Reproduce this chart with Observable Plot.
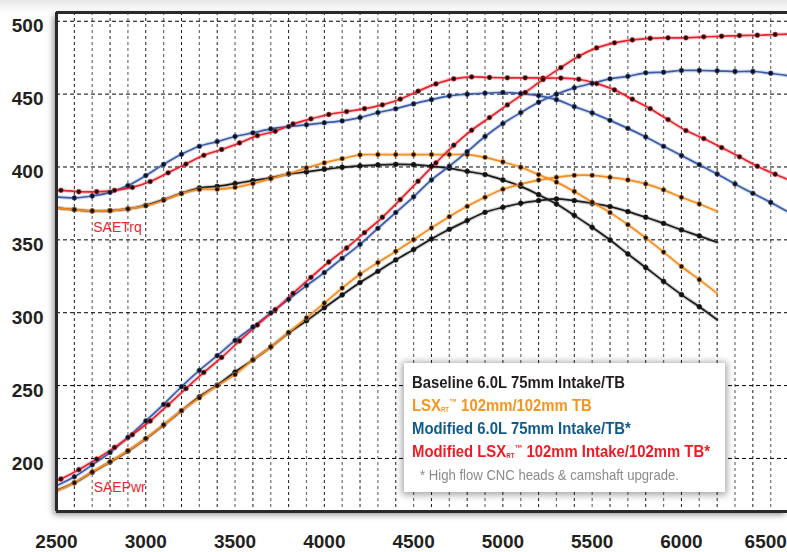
<!DOCTYPE html>
<html><head><meta charset="utf-8">
<script src="https://cdn.jsdelivr.net/npm/d3@7"></script>
<script src="https://cdn.jsdelivr.net/npm/@observablehq/plot@0.6"></script>
<style>
html,body{margin:0;padding:0;}
body{width:787px;height:552px;overflow:hidden;position:relative;background:linear-gradient(#e6e6e6 0px,#f4f4f4 7px,#fff 13px);font-family:"Liberation Sans",Arial,sans-serif;}
#chart{position:absolute;left:0;top:0;}
#legend{position:absolute;left:404px;top:363px;width:321px;height:129px;background:#fff;box-shadow:0 1px 7px 2px rgba(0,0,0,0.35);box-sizing:border-box;padding:8px 0 0 8px;}
#legend .l{font-family:"Liberation Sans",Arial,sans-serif;font-weight:bold;font-size:17px;line-height:23px;height:23px;white-space:nowrap;}
#legend .note{font-family:"Liberation Sans",Arial,sans-serif;font-size:15px;line-height:23px;height:23px;color:#8a8a8a;padding-left:8px;white-space:nowrap;}
#legend span{display:inline-block;transform-origin:0 50%;transform:scaleX(0.875);}
#legend sub{font-size:7px;vertical-align:-1px;line-height:0;}
#legend sup{font-size:9px;vertical-align:6px;line-height:0;}
</style></head>
<body>
<div id="chart"></div>
<div id="legend"></div>
<script>
// ---- data ----
const xTicks = [2500,3000,3500,4000,4500,5000,5500,6000,6500];
const yTicks = [200,250,300,350,400,450,500];

const rpmBase = d3.range(2500, 6201, 100);           // Baseline & LSX
const rpmMod6 = d3.range(2500, 6601, 100);           // Modified 6.0L
const rpmModLsx = [2500, ...d3.range(2525, 6526, 100), 6625]; // Modified LSX

const baseTq = [372,370.7,369.8,370,371.2,373.7,377.6,381.9,385.6,386.7,388.6,390.6,392.5,395.2,396.6,398.4,399.8,400.7,401.4,401.8,401.6,400.5,399.1,397,394.8,391.1,386.7,381,374.6,366.8,358.6,349.9,340.3,331,321.5,312.4,304.1,295.2];
const baseHp = [178,183.3,190.5,197.5,205,213.5,222.9,232.7,242.3,250.3,259.3,267.6,276.5,286.1,294.5,303.4,312.2,320.7,328.4,336.2,343.3,350.6,357.2,363.2,368.9,372.3,375.1,376.9,378.1,376.9,375.1,372.8,369.4,365.5,361.3,356.8,352.7,348.3];

const lsxTq = [372,370.7,369.8,370,371.2,373.3,377.1,381.7,384.5,384.7,386,388.6,392,395.4,399.4,402.8,405.7,408.3,408.5,408.5,408.5,408.5,408.5,408.5,406.6,403.5,399.8,394.8,389.6,383.2,375.8,368.7,360.4,351.4,341.6,331.7,322.7,313.3];
const lsxHp = [177.5,183.3,190.7,197.7,205.3,213.7,223.1,232.8,241.5,249.9,257.5,267.6,276.5,286.5,296.5,306.6,316.9,326.4,334.4,342.1,350.1,358.2,365.9,373,379.2,384.7,388.2,391,392.9,394.3,394.3,392.9,391.1,388.4,384.3,379.2,374.6,369.6];

const mod6Tq = [379.5,378.8,380.1,382.6,387.2,394.1,401.8,408.7,414.2,417.4,420.9,423.4,426.1,427.7,428.9,430.3,431.6,433.9,437.3,439.9,443.3,446.2,448.8,449.9,450.6,451.1,450.4,449,446.2,441.4,437.1,432,426.5,420.6,414.2,407.8,401.6,395.2,388.4,381.9,375.7,369];
const mod6Hp = [181.3,187.4,195.6,204.1,214.4,225.7,237.1,249.2,260.4,270.5,281,290.2,299.8,309.2,318.6,327.5,337.3,346.9,357.9,368.7,379.5,391.1,400.5,410.5,420.9,429.8,437.3,444.4,449.9,454.3,457.4,460.5,462.2,464.6,465,466.2,466.2,466,465.5,465.5,464.3,462.5];

const modLsxTq = [383.6,384,383,383,384,386,390,396,402,408,412,416.5,421.5,424.5,429.5,433,436,438,440,442.6,446.5,452,457,460.5,461.8,461.4,461.2,461.2,461,461,460.2,457.2,452.9,446.5,440,432.5,425,419.5,413.3,407,400.5,395,390];
const modLsxHp = [184.5,185.9,192.3,199.6,207.6,216.3,225.7,236.7,247.9,259,269.3,280.6,291.6,302.1,313.3,324.3,334.8,344.4,354.9,365.5,377.6,390.2,402.8,414.9,425.2,433.9,442.6,451.1,460,468.2,476,481.7,485.2,487.2,488.3,488.6,488.6,489.3,489.7,490.2,490.4,490.9,491.2];

const seriesNames = ["Baseline 6.0L 75mm Intake/TB","LSXRT™ 102mm/102mm TB","Modified 6.0L 75mm Intake/TB*","Modified LSXRT™ 102mm Intake/102mm TB*"];
const footnote = "* High flow CNC heads & camshaft upgrade.";
const curveLabels = [{label:"SAETrq", rpm:2706, value:358.4},{label:"SAEPwr", rpm:2708, value:180.1}];

// ---- styles ----
const lineColors = ["#1b1b1b","#f68b1f","#3b5cab","#e8232b"];
const textColors = ["#231f20","#f7941d","#0f5a8c","#ed1c24"];

const series = [
  {rpm: rpmBase, tq: baseTq, hp: baseHp},
  {rpm: rpmBase, tq: lsxTq, hp: lsxHp},
  {rpm: rpmMod6, tq: mod6Tq, hp: mod6Hp},
  {rpm: rpmModLsx, tq: modLsxTq, hp: modLsxHp}
];

const xDomain = [2500, 6594];
const yDomain = [163.6, 506];

const marks = [
  Plot.frame({fill: "white", stroke: "none"}),
  Plot.ruleX(d3.range(2600, 6501, 200), {stroke: "#000", strokeWidth: 0.9, strokeDasharray: "3,3"}),
  Plot.ruleX(d3.range(2700, 6501, 200), {stroke: "#6f6f6f", strokeWidth: 1.2, strokeDasharray: "3,3"}),
  Plot.ruleY(yTicks, {stroke: "#000", strokeWidth: 1, strokeDasharray: "4,3"})
];

series.forEach((s, i) => {
  ["tq","hp"].forEach(k => {
    const data = s.rpm.map((r, j) => ({rpm: r, v: s[k][j]}));
    marks.push(Plot.line(data, {x: "rpm", y: "v", stroke: lineColors[i], strokeWidth: 4, strokeOpacity: 0.2, curve: "catmull-rom", clip: true}));
    marks.push(Plot.line(data, {x: "rpm", y: "v", stroke: lineColors[i], strokeWidth: 1.7, curve: "catmull-rom", clip: true}));
  });
});
series.forEach((s, i) => {
  ["tq","hp"].forEach(k => {
    const data = s.rpm.map((r, j) => ({rpm: r, v: s[k][j]})).slice(1, -1);
    marks.push(Plot.dot(data, {x: "rpm", y: "v", r: 2.4, fill: "#111", stroke: lineColors[i], strokeWidth: 1, strokeOpacity: 0.6, clip: true}));
  });
});

const axisText = {tickSize: 0, fontSize: 19, fontWeight: "bold", fill: "#231f20", label: null};
marks.push(
  Plot.text(curveLabels, {x: "rpm", y: "value", text: "label", textAnchor: "start", fill: "#e8262e", fontSize: 14}),
  Plot.ruleX([xDomain[0]], {stroke: "#2a2a2a", strokeWidth: 3}),
  Plot.ruleY(yDomain, {stroke: "#2a2a2a", strokeWidth: 3}),
  Plot.axisX(xTicks.slice(0, -1), {...axisText, tickPadding: 23, tickFormat: d => String(d)}),
  Plot.axisX(xTicks.slice(-1), {...axisText, tickPadding: 23, dx: -5, tickFormat: d => String(d)}),
  Plot.axisY(yTicks, {...axisText, tickPadding: 13, dy: 5})
);

const chart = Plot.plot({
  width: 787, height: 552,
  marginLeft: 56, marginRight: 0, marginTop: 12, marginBottom: 41,
  style: {background: "transparent", fontFamily: "'Liberation Sans', Arial, sans-serif"},
  x: {domain: xDomain},
  y: {domain: yDomain},
  marks
});
const fr = chart.querySelector('[aria-label="frame"]');
if (fr) fr.style.filter = "drop-shadow(-3px 3px 3px rgba(0,0,0,0.45))";
document.getElementById("chart").appendChild(chart);

// ---- legend ----
const leg = document.getElementById("legend");
const fmt = s => s.replace("LSXRT™", "LSX<sub>RT</sub><sup>™</sup>");
seriesNames.forEach((n, i) => {
  const d = document.createElement("div");
  d.className = "l";
  d.style.color = textColors[i];
  d.innerHTML = "<span>" + fmt(n) + "</span>";
  leg.appendChild(d);
});
const nd = document.createElement("div");
nd.className = "note";
nd.innerHTML = "<span></span>";
nd.firstChild.textContent = footnote;
leg.appendChild(nd);
</script>
</body></html>
